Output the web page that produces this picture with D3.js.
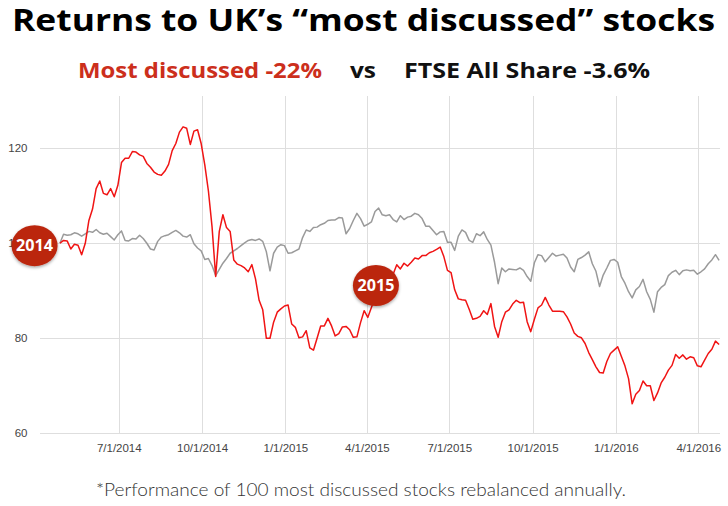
<!DOCTYPE html>
<html>
<head>
<meta charset="utf-8">
<script src="https://cdn.jsdelivr.net/npm/d3@7"></script>
<style>
  html, body { margin: 0; padding: 0; background: #fff; }
  svg { display: block; }
</style>
</head>
<body>
<script>
// ---------- DATA ----------
// Sampling: every 4th day starting 27 Apr 2014 (index value = 100 at start)
const seriesStart = "2014-04-27";
const seriesEnd = "2016-04-25";
const stepDays = 4;

const mostDiscussed = [
  100, 100.6, 100.5, 98.8, 99.8, 99.6, 97.6, 100, 104.8, 107.2,
  111.5, 113.1, 110.5, 110.2, 111.5, 109.8, 112.2, 117, 117.9, 117.9,
  119.3, 119.2, 118.6, 118.3, 116.8, 116, 115, 114.5, 114.3, 115.2,
  116.6, 119.5, 121, 123.4, 124.5, 124.2, 120.8, 123.6, 123.9, 121,
  116.5, 111, 103.5, 93, 102.5, 106, 103.3, 102.5, 96.5, 95.6,
  95.3, 94.8, 94, 95.5, 92.5, 88, 86, 80, 80, 83.4,
  85.5, 86.2, 86.8, 87, 83, 82.3, 80.1, 80.3, 81.6, 78,
  77.5, 80, 82.6, 82.6, 84.2, 82.6, 80.5, 81, 82.4, 82.5,
  81.8, 80.2, 80.3, 83.3, 85.8, 84.4, 86.5, 88.5, 90, 91,
  92, 92.5, 93.5, 95.5, 94.6, 95.8, 95.2, 96, 96.9, 96.7,
  97.4, 97.4, 98, 98.3, 98.7, 99.2, 97.2, 94.3, 93.8, 90.2,
  88.3, 88.1, 88, 86.1, 84, 84.2, 84.6, 85.8, 85, 87.3,
  82.5, 80.2, 83.5, 85.5, 86, 87.2, 88, 87.5, 87.6, 83.5,
  81.4, 84, 86.4, 87, 88.6, 87, 85.7, 85.7, 85.7, 85.6,
  84.5, 83, 81.1, 80.4, 80.1, 78.9, 77, 75.5, 74, 72.8,
  72.7, 75.1, 76.8, 77.5, 78.2, 76.2, 74.2, 71.5, 66.2, 68.2,
  69, 71, 70, 70, 66.9, 68.5, 70.6, 71.8, 73.3, 74.3,
  76.6, 75.8, 76.5, 75.6, 76.1, 75.9, 74.2, 74, 75.4, 76.8,
  77.7, 79.4, 78.7
];

const ftseAllShare = [
  100, 101.9, 101.7, 101.8, 102.2, 102, 101.5, 102, 102.5, 102.3,
  102.9, 102.2, 101.9, 102.1, 101.4, 100.7, 101.8, 102.6, 100.6, 100.5,
  101, 100.9, 101.7, 101, 100, 98.8, 98.6, 100.4, 101.3, 101.6,
  101.8, 102.3, 102.7, 102.2, 101.5, 101.3, 101.8, 99.9, 99, 98.4,
  96.6, 96.8, 95.3, 93.2, 94.5, 95.8, 96.8, 97.9, 98.4, 98.9,
  99.5, 100.1, 100.6, 100.8, 100.6, 100.9, 100.4, 98.2, 94.2, 97.9,
  99.2, 99.7, 99.5, 97.9, 98, 98.4, 98.8, 101.2, 102.8, 102.5,
  103.3, 103.4, 103.9, 104.2, 104.8, 104.9, 104.9, 105.4, 105.3, 102,
  103.1, 104.8, 106.3, 105.2, 103.6, 104, 104.5, 106.7, 107.4, 106,
  105.8, 106, 105, 104.5, 105.8, 105, 105.5, 105.7, 106.3, 106,
  105.2, 103.6, 103.6, 102.7, 101.8, 102.4, 102.5, 100.2, 100.2, 98.5,
  101.5, 102.8, 102.3, 100.6, 100.2, 102, 101.6, 102.4, 100.8, 99.6,
  96, 91.5, 94.8, 94, 94.6, 94.5, 94.4, 94.8, 94.3, 93,
  92, 95.9, 97.6, 97.4, 96.1, 97, 97.9, 97.3, 97.5, 97.7,
  96.9, 95, 94, 96.6, 97, 97.5, 98.2, 95.7, 94.1, 90.9,
  93.3, 94.8, 96.4, 96.6, 96, 93, 91.6, 89.8, 88.5, 90.2,
  90.9, 92.4, 89.8, 88.2, 85.5, 89.8, 90.7, 91.3, 93.2, 93.9,
  94.3, 93.4, 94.2, 94.4, 94.2, 94.3, 93.5, 94, 94.6, 95.7,
  96.5, 97.6, 96.4
];

const xTickLabels = ["7/1/2014", "10/1/2014", "1/1/2015", "4/1/2015",
                     "7/1/2015", "10/1/2015", "1/1/2016", "4/1/2016"];
const yTickValues = [60, 80, 100, 120];
const xDomain = ["2014-04-05", "2016-04-25"];
const yDomain = [60, 131];

const badgeLabels = ["2014", "2015"];
const badgeDates = ["2014-03-30", "2015-04-11"];
const badgeValues = [99.5, 91.1];

const titleText = "Returns to UK\u2019s \u201Cmost discussed\u201D stocks";
const subtitleParts = ["Most discussed -22%", "vs", "FTSE All Share -3.6%"];
const footnoteText = "*Performance of 100 most discussed stocks rebalanced annually.";

// ---------- SETUP ----------
const W = 728, H = 506;
const parseISO = d3.timeParse("%Y-%m-%d");
const parseTick = d3.timeParse("%m/%d/%Y");
const fmtTick = d3.timeFormat("%-m/%-d/%Y");

const dates = d3.timeDay.range(parseISO(seriesStart), parseISO(seriesEnd), stepDays);
const redData = mostDiscussed.map((v, i) => ({ date: dates[i], value: v }));
const grayData = ftseAllShare.map((v, i) => ({ date: dates[i], value: v }));

const plot = { left: 40, right: 720, top: 96, bottom: 433.3 };

const x = d3.scaleTime()
  .domain(xDomain.map(parseISO))
  .range([plot.left, plot.right]);
const y = d3.scaleLinear()
  .domain(yDomain)
  .range([plot.bottom, plot.top]);

const svg = d3.select("body").append("svg")
  .attr("width", W).attr("height", H)
  .attr("viewBox", `0 0 ${W} ${H}`);

const defs = svg.append("defs");
const shadow = defs.append("filter").attr("id", "shadow")
  .attr("x", "-30%").attr("y", "-30%").attr("width", "160%").attr("height", "170%");
shadow.append("feDropShadow")
  .attr("dx", 0).attr("dy", 1.5).attr("stdDeviation", 1.4)
  .attr("flood-color", "#000").attr("flood-opacity", 0.35);

// ---------- TITLE ----------
svg.append("text")
  .attr("x", 363.5).attr("y", 30.5)
  .attr("text-anchor", "middle")
  .attr("font-family", "'Open Sans', 'Liberation Sans', sans-serif")
  .attr("font-weight", 700)
  .attr("font-size", 30)
  .attr("fill", "#000")
  .attr("textLength", 703).attr("lengthAdjust", "spacingAndGlyphs")
  .text(titleText);

const subSpecs = [
  { x: 78, w: 244, color: "#cc2f1c" },
  { x: 350, w: 26, color: "#111" },
  { x: 404, w: 246, color: "#111" }
];
subtitleParts.forEach((t, i) => {
  svg.append("text")
    .attr("x", subSpecs[i].x).attr("y", 77.5)
    .attr("font-family", "'Open Sans', 'Liberation Sans', sans-serif")
    .attr("font-weight", 700)
    .attr("font-size", 21.5)
    .attr("fill", subSpecs[i].color)
    .attr("textLength", subSpecs[i].w).attr("lengthAdjust", "spacingAndGlyphs")
    .text(t);
});

// ---------- GRID & AXES ----------
const tickDates = xTickLabels.map(parseTick);

const yAxis = d3.axisLeft(y)
  .tickValues(yTickValues)
  .tickSize(-(plot.right - plot.left))
  .tickPadding(12.5)
  .tickFormat(d3.format("d"));
const gy = svg.append("g")
  .attr("transform", `translate(${plot.left},0)`)
  .call(yAxis);
gy.select(".domain").remove();
gy.selectAll(".tick line").attr("stroke", "#dedede").attr("shape-rendering", "crispEdges");
gy.selectAll(".tick text")
  .attr("font-family", "'Liberation Sans', Arial, sans-serif")
  .attr("font-size", 11.5).attr("fill", "#444");

const xAxis = d3.axisBottom(x)
  .tickValues(tickDates)
  .tickSize(-(plot.bottom - plot.top))
  .tickPadding(10.5)
  .tickFormat(fmtTick);
const gx = svg.append("g")
  .attr("transform", `translate(0,${plot.bottom})`)
  .call(xAxis);
gx.select(".domain").remove();
gx.selectAll(".tick line").attr("stroke", "#dedede").attr("shape-rendering", "crispEdges");
gx.selectAll(".tick text")
  .attr("font-family", "'Liberation Sans', Arial, sans-serif")
  .attr("font-size", 11.5).attr("fill", "#444");

// ---------- LINES ----------
const line = d3.line().x(d => x(d.date)).y(d => y(d.value));

svg.append("path").datum(grayData)
  .attr("fill", "none").attr("stroke", "#9a9a9a").attr("stroke-width", 1.5)
  .attr("stroke-linejoin", "round")
  .attr("d", line);

svg.append("path").datum(redData)
  .attr("fill", "none").attr("stroke", "#f01414").attr("stroke-width", 1.5)
  .attr("stroke-linejoin", "round")
  .attr("d", line);

// ---------- BADGES ----------
badgeLabels.forEach((lab, i) => {
  const cx = x(parseISO(badgeDates[i]));
  const cy = y(badgeValues[i]);
  const g = svg.append("g").attr("transform", `translate(${cx},${cy})`);
  g.append("ellipse")
    .attr("rx", 23).attr("ry", 20.5)
    .attr("fill", "#bb2710")
    .attr("filter", "url(#shadow)");
  g.append("text")
    .attr("text-anchor", "middle").attr("dy", "0.36em")
    .attr("font-family", "'Open Sans', 'Liberation Sans', sans-serif")
    .attr("font-weight", 700).attr("font-size", 16)
    .attr("fill", "#fff")
    .attr("textLength", 37).attr("lengthAdjust", "spacingAndGlyphs")
    .text(lab);
});

// ---------- FOOTNOTE ----------
svg.append("text")
  .attr("x", 361).attr("y", 496)
  .attr("text-anchor", "middle")
  .attr("font-family", "Lato, 'Open Sans', sans-serif")
  .attr("font-weight", 300)
  .attr("font-size", 17)
  .attr("fill", "#333")
  .attr("textLength", 530).attr("lengthAdjust", "spacingAndGlyphs")
  .text(footnoteText);
</script>
</body>
</html>
